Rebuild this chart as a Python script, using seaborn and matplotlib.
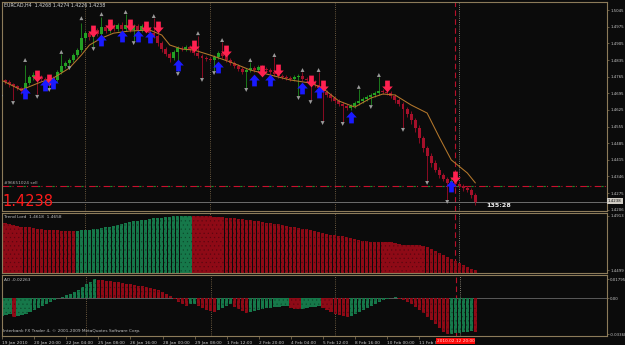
import numpy as np
import matplotlib
matplotlib.use("Agg")
import matplotlib.pyplot as plt
from matplotlib.path import Path
from matplotlib import transforms
import seaborn as sns

# ---------------- data ----------------
symbol_header = "EURCAD,H4  1.4268 1.4274 1.4226 1.4238"
x_labels = ["19 Jan 2010", "20 Jan 20:00", "22 Jan 04:00", "25 Jan 08:00", "26 Jan 16:00",
            "28 Jan 00:00", "29 Jan 08:00", "1 Feb 12:00", "2 Feb 20:00", "4 Feb 04:00",
            "5 Feb 12:00", "8 Feb 16:00", "10 Feb 00:00", "11 Feb 08:00"]
x_label_bars = [0, 8, 16, 24, 32, 40, 48, 56, 64, 72, 80, 88, 96, 104]
week_start_bars = [21, 52, 83, 114]
cursor_bar = 113
cursor_label = "2010.02.12 20:00"

first_open = 1.4763
closes = [1.4751, 1.4743, 1.4734, 1.4726, 1.4717, 1.4705, 1.4738, 1.4763, 1.4772, 1.4763,
          1.4755, 1.4751, 1.4759, 1.4751, 1.4785, 1.4810, 1.4822, 1.4835, 1.4856, 1.4877,
          1.4927, 1.4948, 1.4931, 1.4961, 1.4944, 1.4974, 1.4957, 1.4978, 1.4965, 1.4982,
          1.4965, 1.4982, 1.4961, 1.4978, 1.4961, 1.4978, 1.4965, 1.4948, 1.4936, 1.4906,
          1.4881, 1.4860, 1.4843, 1.4869, 1.4885, 1.4881, 1.4890, 1.4877, 1.4864, 1.4852,
          1.4843, 1.4839, 1.4835, 1.4848, 1.4864, 1.4852, 1.4835, 1.4822, 1.4810, 1.4797,
          1.4785, 1.4793, 1.4801, 1.4793, 1.4806, 1.4797, 1.4793, 1.4785, 1.4776, 1.4768,
          1.4763, 1.4759, 1.4755, 1.4763, 1.4768, 1.4755, 1.4751, 1.4743, 1.4730, 1.4717,
          1.4700, 1.4688, 1.4675, 1.4663, 1.4650, 1.4642, 1.4633, 1.4642, 1.4654, 1.4663,
          1.4671, 1.4680, 1.4688, 1.4696, 1.4705, 1.4700, 1.4696, 1.4684, 1.4667, 1.4650,
          1.4629, 1.4608, 1.4583, 1.4549, 1.4507, 1.4465, 1.4432, 1.4402, 1.4373, 1.4352,
          1.4335, 1.4318, 1.4327, 1.4314, 1.4305, 1.4297, 1.4289, 1.4268, 1.4238]
upper_wick_pips = [6, 5, 6, 5, 6, 5, 75, 10, 12, 10, 8, 10, 8, 10, 8, 50, 8, 8, 8, 8,
                   63, 10, 8, 10, 10, 44, 8, 10, 8, 10, 12, 45, 8, 10, 8, 10, 8, 10, 62, 8,
                   10, 8, 8, 10, 10, 8, 8, 10, 10, 74, 8, 8, 8, 10, 10, 45, 8, 10, 8, 10,
                   8, 10, 24, 8, 10, 8, 10, 8, 61, 8, 10, 8, 10, 8, 10, 15, 8, 10, 8, 53,
                   8, 10, 8, 10, 8, 10, 8, 10, 8, 49, 10, 8, 10, 8, 57, 8, 10, 8, 10, 8,
                   10, 10, 12, 10, 12, 10, 8, 10, 12, 10, 8, 10, 12, 10, 8, 10, 8, 6, 6]
lower_wick_pips = [55, 10, 12, 60, 10, 15, 8, 8, 10, 70, 10, 8, 32, 8, 8, 8, 10, 11, 8, 8,
                   8, 10, 10, 40, 8, 10, 10, 8, 10, 8, 10, 8, 10, 45, 10, 8, 10, 8, 10, 10,
                   12, 10, 15, 8, 83, 10, 8, 10, 8, 10, 82, 10, 10, 45, 8, 8, 10, 10, 10, 8,
                   10, 66, 8, 10, 8, 10, 8, 10, 8, 10, 8, 10, 8, 10, 78, 8, 10, 75, 10, 10,
                   120, 10, 12, 10, 10, 66, 10, 8, 10, 8, 10, 10, 33, 10, 8, 10, 8, 10, 12, 10,
                   78, 12, 15, 15, 20, 15, 104, 15, 10, 12, 10, 70, 10, 12, 10, 12, 10, 15, 12]

ma_bars = [0, 5, 10, 13, 17, 20, 22, 25, 28, 32, 37, 40, 42, 45, 48, 52, 57, 62, 67, 72,
           77, 80, 84, 88, 92, 95, 98, 102, 106, 109, 112, 116, 118]
ma_prices = [1.4751, 1.4709, 1.4743, 1.4759, 1.4801, 1.4856, 1.4898, 1.4927, 1.4948, 1.4957,
             1.4961, 1.4940, 1.4898, 1.4881, 1.4877, 1.4856, 1.4827, 1.4793, 1.4772, 1.4751,
             1.4738, 1.4717, 1.4663, 1.4637, 1.4675, 1.4692, 1.4688, 1.4646, 1.4612, 1.4511,
             1.4415, 1.4360, 1.4318]

frac_up_bars = [6, 15, 20, 25, 31, 38, 49, 55, 62, 68, 75, 79, 89, 94]
frac_up_prices = [1.4835, 1.4869, 1.5011, 1.5028, 1.5037, 1.5020, 1.4948, 1.4919, 1.4835,
                  1.4856, 1.4793, 1.4793, 1.4722, 1.4772]
frac_dn_bars = [0, 3, 9, 12, 17, 23, 33, 44, 50, 53, 61, 74, 77, 80, 85, 92, 100, 106, 111]
frac_dn_prices = [1.4680, 1.4654, 1.4680, 1.4709, 1.4801, 1.4881, 1.4906, 1.4776, 1.4751,
                  1.4780, 1.4709, 1.4675, 1.4658, 1.4570, 1.4566, 1.4637, 1.4541, 1.4318, 1.4238]

sell_bars = [9, 12, 23, 27, 32, 36, 39, 48, 56, 65, 69, 77, 80, 96, 113]
sell_prices = [1.4768, 1.4751, 1.4957, 1.4982, 1.4982, 1.4974, 1.4974, 1.4894, 1.4873,
               1.4789, 1.4793, 1.4747, 1.4726, 1.4726, 1.4343]
buy_bars = [6, 11, 13, 25, 30, 34, 37, 44, 54, 63, 67, 75, 79, 87, 112]
buy_prices = [1.4696, 1.4730, 1.4738, 1.4919, 1.4936, 1.4936, 1.4932, 1.4814, 1.4806,
              1.4751, 1.4751, 1.4717, 1.4700, 1.4595, 1.4305]

order_price = 1.4305
order_label = "#96651024 sell"
bid_price = 1.4238
price_ticks = [1.5045, 1.4975, 1.4905, 1.4835, 1.4765, 1.4695, 1.4625, 1.4555, 1.4485,
               1.4415, 1.4346, 1.4275, 1.4206]

trend_lord = [1.4867, 1.4859, 1.4852, 1.4844, 1.4836, 1.4832, 1.4829, 1.4825, 1.4821, 1.4817,
              1.4813, 1.4809, 1.4806, 1.4806, 1.4802, 1.4798, 1.4798, 1.4798, 1.4798, 1.4798,
              1.4802, 1.4806, 1.4809, 1.4813, 1.4817, 1.4821, 1.4829, 1.4832, 1.4836, 1.4844,
              1.4852, 1.4859, 1.4867, 1.4871, 1.4875, 1.4882, 1.4886, 1.4890, 1.4894, 1.4898,
              1.4901, 1.4905, 1.4909, 1.4913, 1.4913, 1.4913, 1.4913, 1.4913, 1.4913, 1.4913,
              1.4913, 1.4913, 1.4913, 1.4909, 1.4909, 1.4905, 1.4901, 1.4898, 1.4894, 1.4890,
              1.4890, 1.4886, 1.4882, 1.4878, 1.4875, 1.4867, 1.4863, 1.4859, 1.4852, 1.4848,
              1.4844, 1.4836, 1.4832, 1.4829, 1.4821, 1.4817, 1.4813, 1.4806, 1.4798, 1.4790,
              1.4783, 1.4775, 1.4771, 1.4767, 1.4760, 1.4756, 1.4752, 1.4744, 1.4737, 1.4729,
              1.4725, 1.4721, 1.4714, 1.4714, 1.4714, 1.4714, 1.4714, 1.4710, 1.4706, 1.4698,
              1.4694, 1.4691, 1.4691, 1.4691, 1.4687, 1.4683, 1.4675, 1.4660, 1.4645, 1.4629,
              1.4614, 1.4598, 1.4583, 1.4568, 1.4553, 1.4537, 1.4522, 1.4510, 1.4499]
trend_lord_green = (19, 47)
trend_lord_ticks = [1.4913, 1.4499]

ao = [-0.0163, -0.0153, -0.0143, -0.0172, -0.0163, -0.0153, -0.0143, -0.0124, -0.0105, -0.0086,
      -0.0067, -0.0057, -0.0038, -0.0019, 0.0008, 0.0018, 0.0034, 0.0045, 0.0062, 0.0080,
      0.0106, 0.0132, 0.0158, 0.01795, 0.0177, 0.0172, 0.0168, 0.0163, 0.0158, 0.0150,
      0.0145, 0.0140, 0.0132, 0.0124, 0.0119, 0.0115, 0.0106, 0.0098, 0.0089, 0.0076,
      0.0062, 0.0045, 0.0022, -0.0008, -0.0029, -0.0057, -0.0067, -0.0057, -0.0048, -0.0067,
      -0.0086, -0.0105, -0.0115, -0.0124, -0.0105, -0.0086, -0.0067, -0.0057, -0.0076, -0.0096,
      -0.0115, -0.0134, -0.0124, -0.0115, -0.0105, -0.0096, -0.0091, -0.0086, -0.0081, -0.0076,
      -0.0072, -0.0067, -0.0086, -0.0096, -0.0100, -0.0096, -0.0086, -0.0081, -0.0076, -0.0072,
      -0.0086, -0.0105, -0.0124, -0.0143, -0.0153, -0.0167, -0.0172, -0.0163, -0.0143, -0.0124,
      -0.0105, -0.0086, -0.0067, -0.0048, -0.0029, -0.0014, -0.0005, 0.0005, 0.0010, -0.0005,
      -0.0019, -0.0038, -0.0057, -0.0076, -0.0105, -0.0134, -0.0172, -0.0201, -0.0239, -0.0277,
      -0.0315, -0.03368, -0.0332, -0.0327, -0.0322, -0.0318, -0.0313, -0.0308, -0.0318]
ao_ticks = [0.01795, 0.0, -0.03368]
ao_tick_labels = ["0.01795", "0.00", "-0.03368"]

# ---------------- style ----------------
BG = "#0b0b0b"
FRAME = "#8c7b5a"
TXT = "#c8c8c8"
GREEN_C, RED_C = "#23a023", "#a5102a"
GREEN_H, RED_H = "#16784a", "#8e0a16"

sns.set_theme(style="dark", rc={"axes.facecolor": BG, "figure.facecolor": BG,
                                "axes.edgecolor": FRAME, "text.color": TXT,
                                "xtick.color": TXT, "ytick.color": TXT,
                                "hatch.linewidth": 0.35})
plt.rcParams["font.family"] = ["DejaVu Sans"]

W, H = 625, 345
fig = plt.figure(figsize=(6.25, 3.45), dpi=100)


def px_axes(x0, y0, x1, y1):
    a = fig.add_axes([x0 / W, 1 - y1 / H, (x1 - x0) / W, (y1 - y0) / H])
    a.set_facecolor(BG)
    for s in a.spines.values():
        s.set_color(FRAME)
        s.set_linewidth(0.8)
    return a


ax = px_axes(2, 2, 607, 211)
ax_tl = px_axes(2, 213, 607, 273)
ax_ao = px_axes(2, 275, 607, 336)

n = len(closes)
xs = np.arange(n)
XLIM = (0.25, 0.25 + 605 / 4.02)

# ---------------- main chart ----------------
c = np.array(closes)
o = np.r_[first_open, c[:-1]]
hi = np.maximum(o, c) + np.array(upper_wick_pips) * 1e-4
lo = np.minimum(o, c) - np.array(lower_wick_pips) * 1e-4
bull = c >= o
wick_cols = np.where(bull, "#1c7a1c", "#8a0c22")
body_cols = np.where(bull, GREEN_C, RED_C)
ax.vlines(xs, lo, hi, colors=wick_cols, lw=0.7, zorder=2)
ax.bar(xs, np.maximum(np.abs(c - o), 0.00025), bottom=np.minimum(o, c), width=0.74,
       color=body_cols, linewidth=0, zorder=3)

sns.lineplot(x=ma_bars, y=ma_prices, ax=ax, color="#b5782c", lw=0.75, zorder=4)

sns.scatterplot(x=frac_up_bars, y=frac_up_prices, ax=ax, marker="^", s=8,
                color="#9a9a9a", edgecolor="none", zorder=5)
sns.scatterplot(x=frac_dn_bars, y=frac_dn_prices, ax=ax, marker="v", s=8,
                color="#9a9a9a", edgecolor="none", zorder=5)

down_arrow = Path([(-0.2, 0.5), (0.2, 0.5), (0.2, 0.0), (0.45, 0.0), (0.0, -0.5),
                   (-0.45, 0.0), (-0.2, 0.0), (-0.2, 0.5)],
                  [Path.MOVETO] + [Path.LINETO] * 6 + [Path.CLOSEPOLY])
up_arrow = Path([(-0.2, -0.5), (0.2, -0.5), (0.2, 0.0), (0.45, 0.0), (0.0, 0.5),
                 (-0.45, 0.0), (-0.2, 0.0), (-0.2, -0.5)],
                [Path.MOVETO] + [Path.LINETO] * 6 + [Path.CLOSEPOLY])
ax.scatter(sell_bars, sell_prices, marker=down_arrow, s=72, color="#ff2150",
           linewidths=0, zorder=6)
ax.scatter(buy_bars, buy_prices, marker=up_arrow, s=72, color="#1a1aff",
           linewidths=0, zorder=6)

ax.axhline(order_price, color="#c8102e", lw=0.8, ls=(0, (6, 3, 1, 3)), zorder=1)
ax.axhline(order_price, color="#1f8a2a", lw=0.8, ls=(7, (2, 11)), zorder=1)
ax.axhline(bid_price, color="#6e6e6e", lw=0.7, zorder=1)

ax.set_xlim(*XLIM)
ax.set_ylim(1.4200, 1.5079)
ax.yaxis.tick_right()
ax.set_yticks(price_ticks)
ax.set_yticklabels([f"{p:.4f}" for p in price_ticks])

# ---------------- Trend Lord ----------------
tl = np.array(trend_lord)
tl_base = 1.4476
tl_cols = [GREEN_H if trend_lord_green[0] <= i <= trend_lord_green[1] else RED_H for i in xs]
tl_edge = ["#0d4a2c" if col == GREEN_H else "#5a0610" for col in tl_cols]
ax_tl.bar(xs, tl - tl_base, bottom=tl_base, width=0.8, color=tl_cols, edgecolor=tl_edge,
          hatch="....", linewidth=0)
ax_tl.set_xlim(*XLIM)
ax_tl.set_ylim(tl_base, 1.4936)
ax_tl.yaxis.tick_right()
ax_tl.set_yticks(trend_lord_ticks)
ax_tl.set_yticklabels([f"{v:.4f}" for v in trend_lord_ticks])

# ---------------- AO ----------------
aov = np.array(ao)
rising = np.r_[True, np.diff(aov) > 0]
ao_cols = np.where(rising, GREEN_H, RED_H)
ao_edge = np.where(rising, "#0d4a2c", "#5a0610")
ax_ao.bar(xs, aov, width=0.8, color=ao_cols, edgecolor=ao_edge, hatch="....", linewidth=0)
ax_ao.axhline(0, color="#5a5a5a", lw=0.7, zorder=0)
ax_ao.set_xlim(*XLIM)
ax_ao.set_ylim(-0.0353, 0.0220)
ax_ao.yaxis.tick_right()
ax_ao.set_yticks(ao_ticks)
ax_ao.set_yticklabels(ao_tick_labels)

# shared vertical lines
for a in (ax, ax_tl, ax_ao):
    for b in week_start_bars:
        a.axvline(b, color="#8a7250" if b != week_start_bars[-1] else "#a8a090",
                  lw=0.6, ls=(0, (1, 1.6)), zorder=0.5)
    a.axvline(cursor_bar, color="#b8102a", lw=0.8, ls=(0, (5, 3)), zorder=0.6)
    a.tick_params(axis="y", which="both", right=True, left=False, length=1.5, width=0.5,
                  color=FRAME, labelsize=2.8, pad=0.8, labelcolor=TXT)
    a.tick_params(axis="x", bottom=False, labelbottom=False)
    a.grid(False)
    a.set_xlabel("")
    a.set_ylabel("")

# x-axis labels on the lowest panel
ax_ao.set_xticks(x_label_bars)
ax_ao.set_xticklabels(x_labels, ha="left")
ax_ao.tick_params(axis="x", bottom=True, labelbottom=True, length=2, width=0.5,
                  color=FRAME, labelsize=3.1, pad=1.5, labelcolor=TXT)
ax_ao.text(cursor_bar, -0.085, cursor_label, transform=transforms.blended_transform_factory(
    ax_ao.transData, ax_ao.transAxes), ha="center", va="center", fontsize=3.1,
    color="#ffd8d8", zorder=20, clip_on=False,
    bbox=dict(boxstyle="square,pad=0.25", fc="#ff0a0a", ec="none"))


def ftext(x, y, s, **kw):
    fig.text(x / W, 1 - y / H, s, va="center", ha=kw.pop("ha", "left"), **kw)


ftext(4, 5, symbol_header, fontsize=3.4, color="#d8d8d8")
ftext(4, 183, order_label, fontsize=3.1, color="#b0b0b0")
ftext(2, 201, f"{bid_price:.4f}", fontsize=10.5, color="#ff1a1a")
ftext(486, 205.5, "135:28", fontsize=4.6, color="#f0f0f0", fontweight="bold")
ftext(4, 217, "Trend Lord  1.4618  1.4658", fontsize=3.1, color="#c0c0c0")
ftext(4, 280, "AO -0.02263", fontsize=3.1, color="#c0c0c0")
ftext(3, 331, "Interbank FX Trader 4, \u00a9 2001-2009 MetaQuotes Software Corp.",
      fontsize=3.1, color="#c0c0c0")
ftext(608, 201, f"{bid_price:.4f}", fontsize=2.8, color="#101010",
      bbox=dict(boxstyle="square,pad=0.2", fc="#d0ccc4", ec="none"))

fig.savefig("out.png", dpi=100, facecolor=BG)
